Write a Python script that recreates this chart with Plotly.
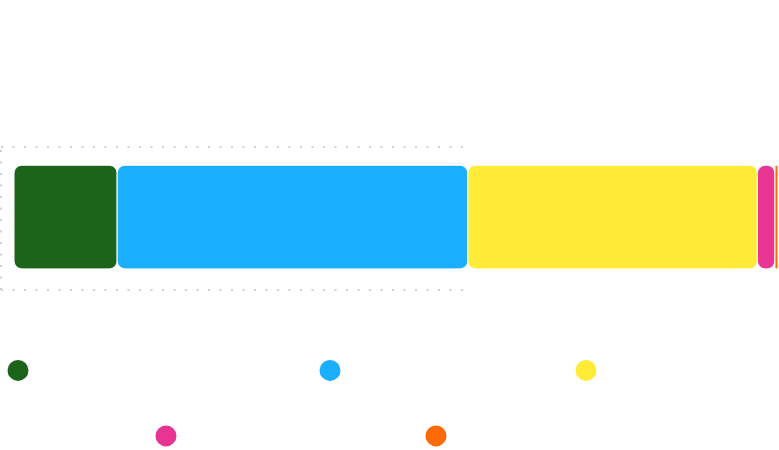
import numpy as np
import plotly.graph_objects as go

# %%
categorias = ['Segmento A', 'Segmento B', 'Segmento C', 'Segmento D', 'Segmento E']
valores = [13.5, 45.9, 37.9, 2.3, 0.4]
cores = ['#1b6419', '#1aafff', '#ffeb38', '#e83593', '#ff6a08']

# posições das bolinhas da legenda (px no container 779x450)
legenda_pos = [(18, 370.5), (330, 370.5), (586, 370.5), (166, 436), (436, 436)]

W, H = 779, 450

# %%
fim = np.cumsum(valores)
inicio = fim - np.array(valores)

fig = go.Figure()

for i, cat in enumerate(categorias):
    fig.add_trace(go.Bar(
        y=[0], x=[valores[i]], base=[float(inicio[i])],
        orientation='h',
        marker=dict(color=cores[i], cornerradius=8, line=dict(width=1, color='white')),
        showlegend=False, hoverinfo='skip'
    ))

# legenda (uma por item), em eixos escondidos
for i, cat in enumerate(categorias):
    nome_leg = 'legend' if i == 0 else f'legend{i + 1}'
    fig.add_trace(go.Scatter(
        x=[-100], y=[-100], mode='markers', name=cat,
        marker=dict(symbol='circle', size=16, color=cores[i],
                    line=dict(color=cores[i], width=5)),
        legend=nome_leg, xaxis='x2', yaxis='y2', hoverinfo='skip'
    ))

layout_legendas = {}
for i, (cx, cy) in enumerate(legenda_pos):
    nome_leg = 'legend' if i == 0 else f'legend{i + 1}'
    layout_legendas[nome_leg] = dict(
        xref='container', yref='container',
        x=max(cx - 20, 0) / W, y=1 - cy / H,
        xanchor='left', yanchor='middle',
        indentation=min(cx - 20, 0),
        bgcolor='rgba(0,0,0,0)', borderwidth=0,
        font=dict(color='#ffffff', size=13, family='Roboto')
    )

# grade pontilhada
ml, mr, mt, mb = 14, 1, 147, 160
largura = W - ml - mr
x0 = -13 / largura
x1 = (472 - ml) / largura
grade = dict(color='#c9d1da', width=2, dash='2px,9.5px')
shapes = [
    dict(type='line', xref='paper', yref='paper', x0=x0, x1=x1, y0=1, y1=1, line=grade),
    dict(type='line', xref='paper', yref='paper', x0=x0, x1=x1, y0=0, y1=0, line=grade),
    dict(type='line', xref='paper', yref='paper', x0=x0, x1=x0, y0=0, y1=1, line=grade),
]

fig.update_layout(
    width=W, height=H,
    barmode='overlay', bargap=0.275,
    margin=dict(l=ml, r=mr, t=mt, b=mb, autoexpand=False),
    paper_bgcolor='white', plot_bgcolor='white',
    xaxis=dict(range=[0, float(fim[-1])], visible=False, showgrid=False, zeroline=False),
    yaxis=dict(range=[-0.51, 0.49], visible=False, showgrid=False, zeroline=False),
    xaxis2=dict(range=[0, 1], visible=False, overlaying='x'),
    yaxis2=dict(range=[0, 1], visible=False, overlaying='y'),
    shapes=shapes,
    **layout_legendas
)

fig.write_html("out.html", config={'displayModeBar': False},
               post_script="document.body.style.margin='0';")
